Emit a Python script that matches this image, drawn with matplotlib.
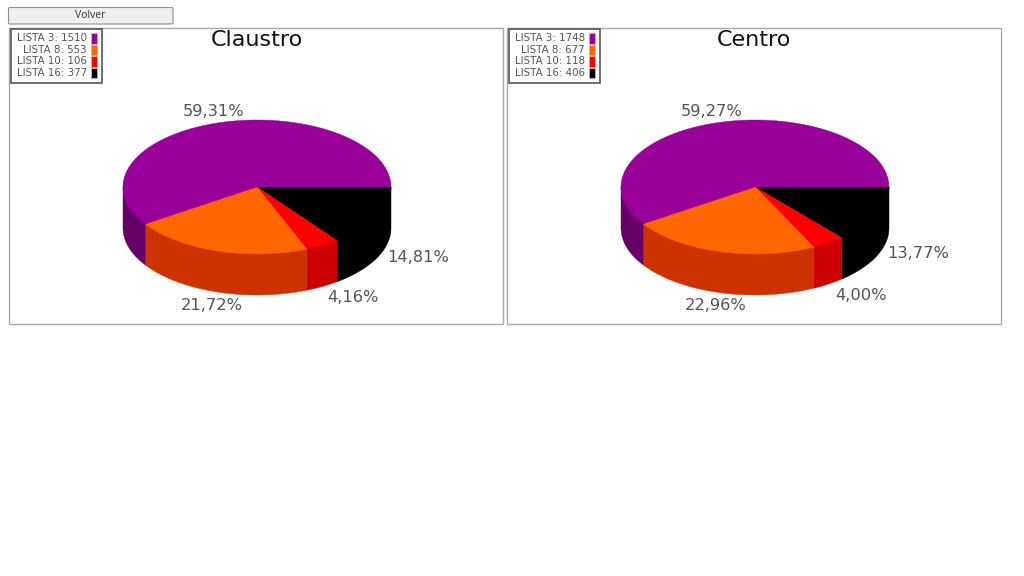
#!/usr/bin/env python3
import numpy as np
import matplotlib
matplotlib.use('Agg')
import matplotlib.pyplot as plt
from matplotlib.patches import Rectangle, FancyBboxPatch

series = ['LISTA 3', 'LISTA 8', 'LISTA 10', 'LISTA 16']
claustro = [1510, 553, 106, 377]
centro = [1748, 677, 118, 406]
titles = ['Claustro', 'Centro']

colors = ['#990099', '#ff6600', '#ff0000', '#000000']
sides = ['#660066', '#cc3300', '#cc0000', '#000000']
text_col = '#545454'

# px layout, pie centre and label centres for each panel
rx, ry, depth = 134, 67, 41
panels = [
    {'x0': 9, 'cx': 257, 'title_x': 257,
     'labels': [(214, 111), (212, 305), (353, 298), (418, 258)]},
    {'x0': 507, 'cx': 755, 'title_x': 754,
     'labels': [(712, 111), (716, 305), (861, 296), (918, 254)]},
]
cy = 187

fig = plt.figure(figsize=(10.24, 5.76), dpi=100)
ax = fig.add_axes([0, 0, 1, 1])
ax.set_xlim(0, 1024)
ax.set_ylim(576, 0)
ax.axis('off')

# button
ax.add_patch(FancyBboxPatch((8.5, 7.5), 164.5, 16.5, boxstyle='round,pad=0,rounding_size=1.5',
                            fc='#efefef', ec='#8f8f8f', lw=0.8))
ax.text(90.5, 15.5, 'Volver', ha='center', va='center', fontsize=7.5, color='#333333',
        family='Open Sans')


def arc(cx, y, a, b, r_y=ry):
    t = np.radians(np.linspace(a, b, max(int(abs(b - a) * 2), 2)))
    return cx + rx * np.cos(t), y + r_y * np.sin(t)


def draw_pie(cx, values):
    # slices run clockwise from east, last series first
    total = sum(values)
    start = 0
    slices = []
    for i in reversed(range(len(values))):
        end = start + values[i] / total * 360
        slices.append((i, start, end))
        start = end
    for i, a, b in slices:
        b2 = min(b, 180)
        if a < 180:
            # upper edge tucked under the top face so no seam shows
            x, y = arc(cx, cy, a, b2, ry - 3)
            x2, y2 = arc(cx, cy + depth, a, b2)
            ax.fill(np.r_[x, x2[::-1]], np.r_[y, y2[::-1]], fc=sides[i], ec=sides[i], lw=0.3, zorder=2)
    for i, a, b in slices:
        x, y = arc(cx, cy, a, b)
        ax.fill(np.r_[cx, x], np.r_[cy, y], fc=colors[i], ec=colors[i], lw=0.3, zorder=3)


def draw_legend(x0, values):
    ax.add_patch(Rectangle((x0 + 2, 29), 91, 54, fc='white', ec='#555555', lw=1.2, zorder=4))
    for i, name in enumerate(series):
        y = 38 + i * 11.6
        ax.text(x0 + 78, y, f'{name}: {values[i]}', ha='right', va='center',
                fontsize=7.4, color=text_col, zorder=5)
        ax.add_patch(Rectangle((x0 + 82, y - 5), 6, 10.5, fc=colors[i], ec='#bbbbbb', lw=0.6, zorder=5))


for p, values, title in zip(panels, [claustro, centro], titles):
    ax.add_patch(Rectangle((p['x0'], 28), 494, 296, fc='white', ec='#a9a9a9', lw=1, zorder=1))
    draw_pie(p['cx'], values)
    draw_legend(p['x0'], values)
    ax.text(p['title_x'], 39.5, title, ha='center', va='center', fontsize=16, color='#111111', zorder=5)
    total = sum(values)
    for v, pos in zip(values, p['labels']):
        pct = f'{v / total * 100:.2f}%'.replace('.', ',')
        ax.text(pos[0], pos[1], pct, ha='center', va='center', fontsize=11.7, color=text_col, zorder=5)

fig.savefig('out.png', dpi=100)
